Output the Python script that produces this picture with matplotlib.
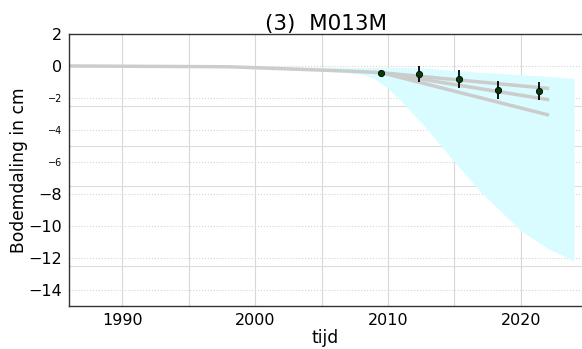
import matplotlib
matplotlib.use("Agg")
import matplotlib.pyplot as plt
import numpy as np

# Data
base_years = [1986, 1998, 2003, 2007, 2009.5]
base_vals = [0.0, -0.05, -0.2, -0.32, -0.42]

fan_start = (2009.5, -0.42)
fan_end_year = 2022.0
fan_end_vals = [-1.4, -2.1, -3.05]

obs_years = [2009.5, 2012.35, 2015.35, 2018.3, 2021.35]
obs_vals = [-0.42, -0.5, -0.83, -1.52, -1.56]
obs_err = [0.0, 0.52, 0.55, 0.56, 0.56]

band_years = [1998, 2000, 2005, 2008, 2009, 2010, 2011, 2013, 2015, 2017, 2020, 2022, 2024]
band_upper = [0.0, -0.05, -0.08, -0.1, -0.1, -0.1, -0.1, -0.15, -0.3, -0.4, -0.55, -0.65, -0.78]
band_lower = [0.0, -0.1, -0.3, -0.5, -0.8, -1.4, -2.2, -4.0, -6.0, -7.9, -10.3, -11.4, -12.2]

yticks = [2, 0, -2, -4, -6, -8, -10, -12, -14]
small_ticks = [-2, -4, -6]
extra_grid = [-2.5, -5, -7.5, -12.5]
xticks = [1990, 2000, 2010, 2020]
xgrid_minor = [1995, 2005, 2015]

fig = plt.figure(figsize=(5.82, 3.49), dpi=100)
ax = fig.add_axes([0.1186, 0.124, 0.8814, 0.7786])

ax.fill_between(band_years, band_lower, band_upper, color='#d8fcff', linewidth=0, zorder=1)

ax.plot(base_years, base_vals, color='#cccccc', lw=2.5, zorder=2, solid_capstyle='butt')
for v in fan_end_vals:
    ax.plot([fan_start[0], fan_end_year], [fan_start[1], v], color='#cccccc', lw=2.5, zorder=2)

ax.errorbar(obs_years, obs_vals, yerr=obs_err, fmt='o', color='#063d06', ecolor='black',
            elinewidth=1.3, markersize=4.5, markeredgecolor='black', markeredgewidth=0.6,
            capsize=0, zorder=4)

ax.set_xlim(1986.0, 2024.6)
ax.set_ylim(-15, 2)

ax.set_yticks(yticks)
ax.set_yticklabels([f"{t}".replace('-', '\u2212') for t in yticks])
for lab, t in zip(ax.get_yticklabels(), yticks):
    lab.set_fontsize(7 if t in small_ticks else 11.5)
ax.set_xticks(xticks)
ax.set_xticklabels([str(x) for x in xticks], fontsize=11.5)
ax.tick_params(length=0, pad=5)

# grids
for t in yticks:
    ax.axhline(t, color='#d4d4d4', lw=0.8, ls=':', zorder=0)
for t in extra_grid:
    ax.axhline(t, color='#dcdcdc', lw=0.8, ls='-', zorder=0)
for x in xticks + xgrid_minor:
    ax.axvline(x, color='#d8d8d8', lw=0.8, zorder=0)

for s in ['top', 'left', 'bottom']:
    ax.spines[s].set_color('#333333')
    ax.spines[s].set_linewidth(1.0)
ax.spines['right'].set_visible(False)

ax.set_title('(3)  M013M', fontsize=15.5, pad=3)
ax.set_ylabel('Bodemdaling in cm', fontsize=12.3, labelpad=0)
ax.set_xlabel('tijd', fontsize=12.3, labelpad=1)

fig.savefig('out.png', dpi=100)
